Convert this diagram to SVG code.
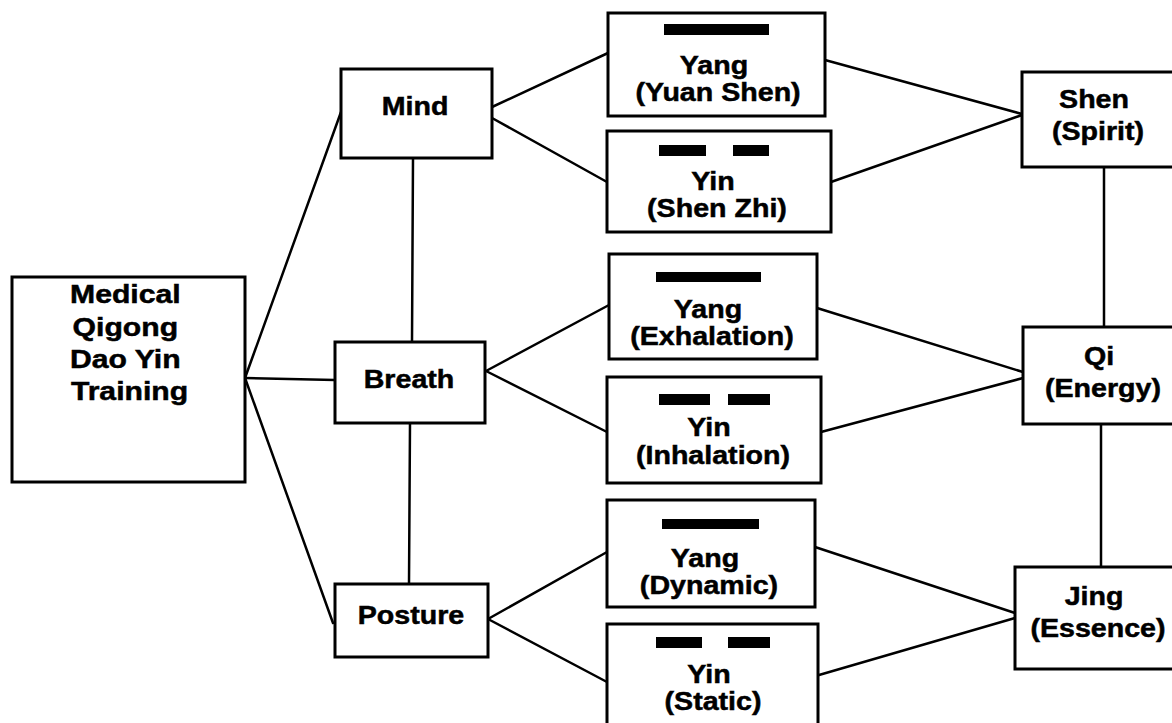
<svg xmlns="http://www.w3.org/2000/svg" width="1172" height="723" viewBox="0 0 1172 723">
  <style>
    .box { fill: #fff; stroke: #000; stroke-width: 3; }
    .bar { fill: #000; }
    .link { stroke: #000; stroke-width: 2.5; fill: none; stroke-linecap: round; }
    .t { font-family: "Liberation Sans", Arial, Helvetica, sans-serif; font-weight: bold; font-size: 26px; fill: #000; stroke: #000; stroke-width: 0.5; text-anchor: middle; }
  </style>
  <rect width="1172" height="723" fill="#fff"/>

  <!-- connectors -->
  <g id="connectors">
    <line class="link" x1="245" y1="378" x2="341" y2="112"/>
    <line class="link" x1="245" y1="378" x2="335" y2="380"/>
    <line class="link" x1="245" y1="378" x2="333" y2="623"/>
    <line class="link" x1="413" y1="158" x2="412" y2="342"/>
    <line class="link" x1="410" y1="423" x2="409" y2="584"/>
    <line class="link" x1="492" y1="107" x2="608" y2="53"/>
    <line class="link" x1="492" y1="118" x2="607" y2="182"/>
    <line class="link" x1="486" y1="371" x2="609" y2="305"/>
    <line class="link" x1="486" y1="371" x2="607" y2="432"/>
    <line class="link" x1="488" y1="619" x2="607" y2="552"/>
    <line class="link" x1="488" y1="619" x2="607" y2="682"/>
    <line class="link" x1="825" y1="60" x2="1022" y2="114"/>
    <line class="link" x1="831" y1="182" x2="1022" y2="115"/>
    <line class="link" x1="817" y1="308" x2="1023" y2="372"/>
    <line class="link" x1="821" y1="432" x2="1023" y2="378"/>
    <line class="link" x1="815" y1="547" x2="1015" y2="613"/>
    <line class="link" x1="819" y1="675" x2="1015" y2="618"/>
    <line class="link" x1="1104" y1="167" x2="1104" y2="327"/>
    <line class="link" x1="1101" y1="424" x2="1101" y2="567"/>
  </g>

  <!-- root -->
  <g id="training">
    <rect class="box" x="12" y="277" width="233" height="205"/>
    <text class="t" transform="translate(129.5 0) scale(1.16 1)">
      <tspan x="0" y="303">Medical</tspan>
      <tspan x="0" y="336">Qigong</tspan>
      <tspan x="0" y="368">Dao Yin</tspan>
      <tspan x="0" y="400">Training</tspan>
    </text>
  </g>

  <!-- three regulations -->
  <g id="mind">
    <rect class="box" x="341" y="69" width="151" height="89"/>
    <text class="t" transform="translate(415 115) scale(1.1 1)">Mind</text>
  </g>
  <g id="breath">
    <rect class="box" x="335" y="342" width="150" height="81"/>
    <text class="t" transform="translate(409 388) scale(1.1 1)">Breath</text>
  </g>
  <g id="posture">
    <rect class="box" x="335" y="584" width="153" height="73"/>
    <text class="t" transform="translate(411 624) scale(1.1 1)">Posture</text>
  </g>

  <!-- yang / yin pairs -->
  <g id="yang-yuan-shen">
    <rect class="box" x="608" y="13" width="217" height="103"/>
    <rect class="bar" x="664" y="24" width="105" height="11"/>
    <text class="t" transform="translate(718 0) scale(1.1 1)">
      <tspan x="0" y="74">Yang</tspan>
      <tspan x="0" y="101">(Yuan Shen)</tspan>
    </text>
  </g>
  <g id="yin-shen-zhi">
    <rect class="box" x="607" y="131" width="224" height="101"/>
    <rect class="bar" x="659" y="145" width="47" height="11"/>
    <rect class="bar" x="733" y="145" width="36" height="11"/>
    <text class="t" transform="translate(717 0) scale(1.1 1)">
      <tspan x="0" y="190">Yin</tspan>
      <tspan x="0" y="217">(Shen Zhi)</tspan>
    </text>
  </g>
  <g id="yang-exhalation">
    <rect class="box" x="609" y="254" width="208" height="105"/>
    <rect class="bar" x="656" y="272" width="105" height="10"/>
    <text class="t" transform="translate(712 0) scale(1.1 1)">
      <tspan x="0" y="318">Yang</tspan>
      <tspan x="0" y="345">(Exhalation)</tspan>
    </text>
  </g>
  <g id="yin-inhalation">
    <rect class="box" x="607" y="377" width="214" height="106"/>
    <rect class="bar" x="659" y="394" width="51" height="11"/>
    <rect class="bar" x="728" y="394" width="42" height="11"/>
    <text class="t" transform="translate(713 0) scale(1.1 1)">
      <tspan x="0" y="436">Yin</tspan>
      <tspan x="0" y="464">(Inhalation)</tspan>
    </text>
  </g>
  <g id="yang-dynamic">
    <rect class="box" x="607" y="500" width="208" height="107"/>
    <rect class="bar" x="662" y="519" width="97" height="10"/>
    <text class="t" transform="translate(709 0) scale(1.1 1)">
      <tspan x="0" y="567">Yang</tspan>
      <tspan x="0" y="594">(Dynamic)</tspan>
    </text>
  </g>
  <g id="yin-static">
    <rect class="box" x="607" y="624" width="211" height="110"/>
    <rect class="bar" x="656" y="637" width="46" height="11"/>
    <rect class="bar" x="728" y="637" width="42" height="11"/>
    <text class="t" transform="translate(713 0) scale(1.1 1)">
      <tspan x="0" y="683">Yin</tspan>
      <tspan x="0" y="710">(Static)</tspan>
    </text>
  </g>

  <!-- three treasures -->
  <g id="shen">
    <rect class="box" x="1022" y="72" width="160" height="95"/>
    <text class="t" transform="translate(1098 0) scale(1.1 1)">
      <tspan x="0" y="108">Shen</tspan>
      <tspan x="0" y="140">(Spirit)</tspan>
    </text>
  </g>
  <g id="qi">
    <rect class="box" x="1023" y="327" width="160" height="97"/>
    <text class="t" transform="translate(1103 0) scale(1.1 1)">
      <tspan x="0" y="365">Qi</tspan>
      <tspan x="0" y="397">(Energy)</tspan>
    </text>
  </g>
  <g id="jing">
    <rect class="box" x="1015" y="567" width="168" height="102"/>
    <text class="t" transform="translate(1098 0) scale(1.1 1)">
      <tspan x="0" y="605">Jing</tspan>
      <tspan x="0" y="637">(Essence)</tspan>
    </text>
  </g>
</svg>
